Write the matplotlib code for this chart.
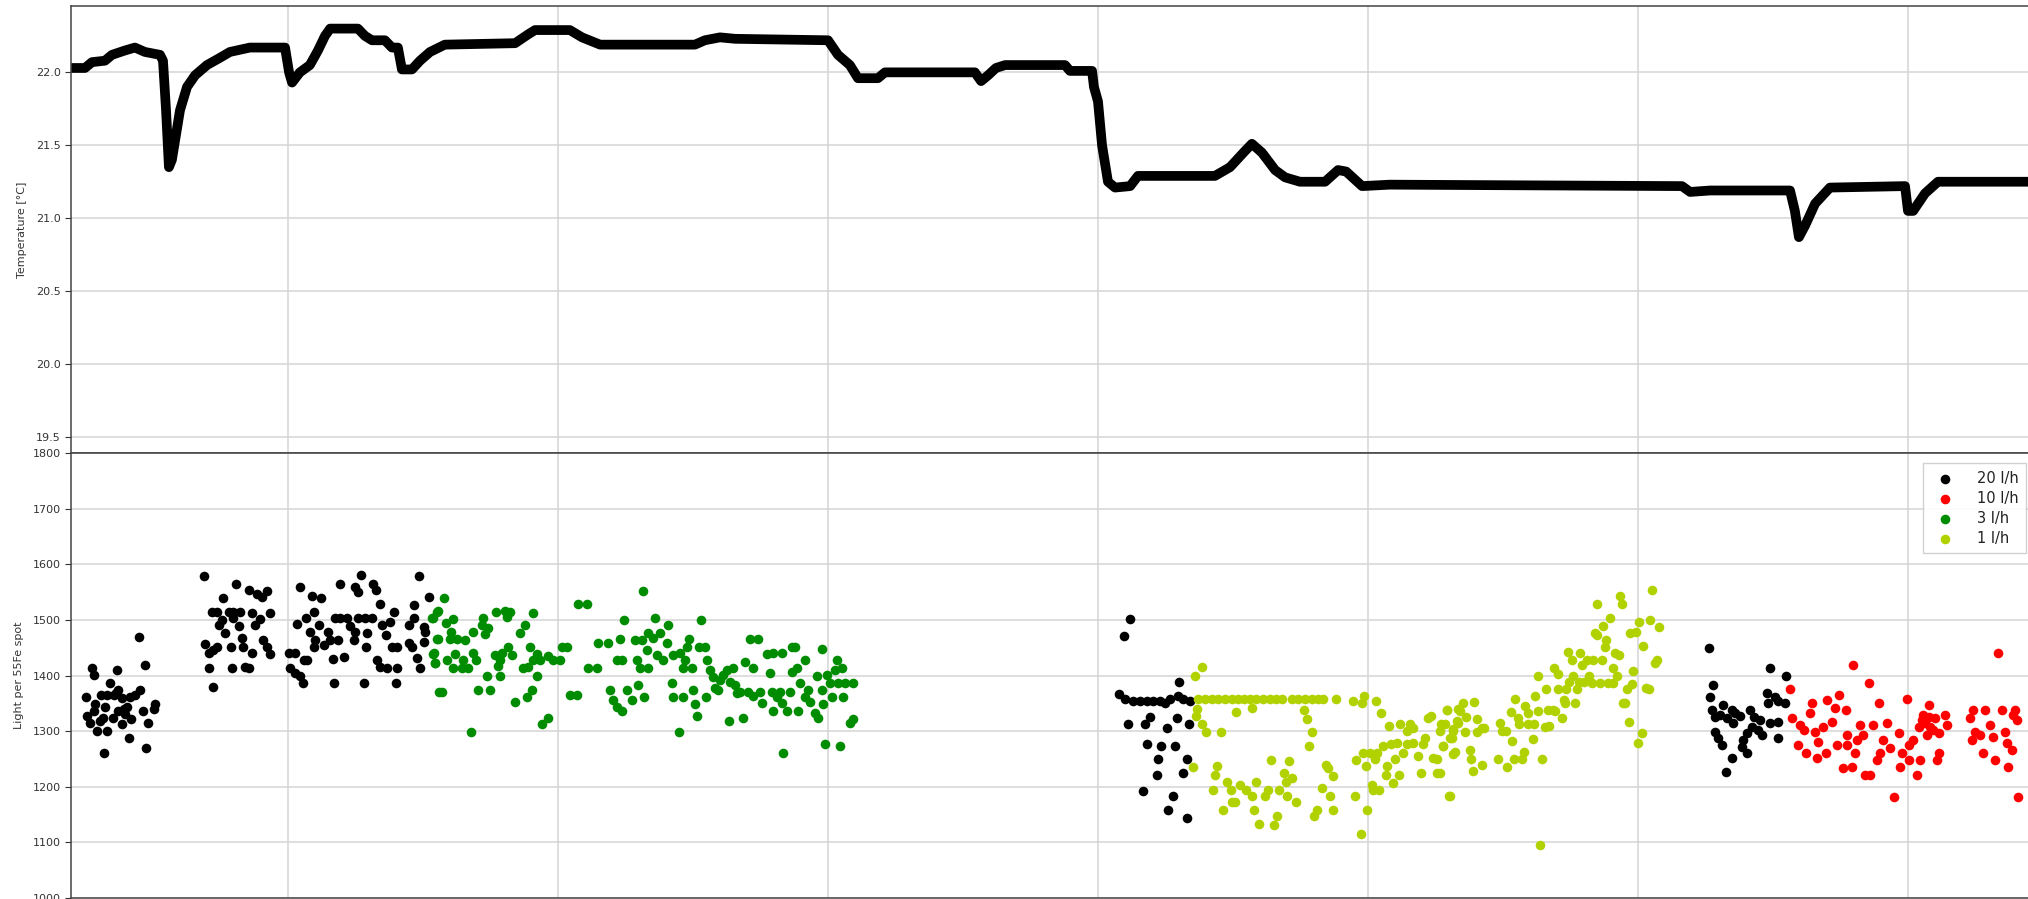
import matplotlib
matplotlib.use("Agg")
import matplotlib.pyplot as plt

# ---------------- data ----------------
temp_day = [0.200, 0.248, 0.274, 0.322, 0.348, 0.396, 0.433, 0.470, 0.526, 0.537,
            0.548, 0.559, 0.570, 0.600, 0.626, 0.656, 0.700, 0.748, 0.785, 0.859,
            0.989, 1.004, 1.015, 1.044, 1.081, 1.111, 1.137, 1.156, 1.259, 1.285,
            1.311, 1.359, 1.385, 1.407, 1.422, 1.459, 1.489, 1.526, 1.581, 1.841,
            1.889, 1.915, 2.044, 2.089, 2.156, 2.507, 2.544, 2.600, 2.656, 3.000,
            3.037, 3.081, 3.111, 3.185, 3.211, 3.544, 3.567, 3.593, 3.622, 3.656,
            3.878, 3.896, 3.978, 3.985, 4.000, 4.015, 4.037, 4.063, 4.119, 4.148,
            4.433, 4.489, 4.544, 4.570, 4.607, 4.656, 4.693, 4.748, 4.841, 4.889,
            4.919, 4.978, 5.081, 6.163, 6.193, 6.267, 6.563, 6.581, 6.596, 6.619,
            6.656, 6.711, 6.989, 7.000, 7.019, 7.063, 7.111, 7.470]
temp_c = [22.03, 22.03, 22.07, 22.08, 22.12, 22.15, 22.17, 22.14, 22.12, 22.08,
          21.75, 21.35, 21.40, 21.74, 21.90, 21.98, 22.05, 22.10, 22.14, 22.17,
          22.17, 22.00, 21.93, 22.00, 22.05, 22.15, 22.25, 22.30, 22.30, 22.25,
          22.22, 22.22, 22.17, 22.17, 22.02, 22.02, 22.08, 22.14, 22.19, 22.20,
          22.26, 22.29, 22.29, 22.24, 22.19, 22.19, 22.22, 22.24, 22.23, 22.22,
          22.12, 22.05, 21.96, 21.96, 22.00, 22.00, 21.94, 21.98, 22.03, 22.05,
          22.05, 22.01, 22.01, 21.90, 21.80, 21.50, 21.25, 21.21, 21.22, 21.29,
          21.29, 21.35, 21.46, 21.51, 21.45, 21.33, 21.28, 21.25, 21.25, 21.33,
          21.32, 21.22, 21.23, 21.22, 21.18, 21.19, 21.19, 21.05, 20.87, 20.95,
          21.10, 21.21, 21.22, 21.05, 21.05, 21.17, 21.25, 21.25]

flow20_day = [0.273, 0.280, 0.366, 0.450, 0.471, 0.252, 0.286, 0.307, 0.323, 0.341,
              0.354, 0.372, 0.384, 0.415, 0.434, 0.452, 0.255, 0.267, 0.302, 0.314,
              0.351, 0.372, 0.391, 0.403, 0.418, 0.384, 0.294, 0.331, 0.412, 0.319,
              0.475, 0.462, 0.483, 0.508, 0.502, 0.329, 0.363, 0.397, 0.280,
              0.690, 0.807, 0.761, 0.854, 0.885, 0.903, 0.922, 0.718, 0.736, 0.780,
              0.798, 0.823, 0.866, 0.934, 0.755, 0.798, 0.895, 0.746, 0.817, 0.879,
              0.767, 0.693, 0.736, 0.788, 0.829, 0.835, 0.909, 0.922, 0.706, 0.724,
              0.866, 0.932, 0.706, 0.792, 0.841, 0.854, 0.724,
              1.043, 1.088, 1.122, 1.097, 1.035, 1.067, 1.080, 1.113, 1.101, 1.095,
              1.132, 1.150, 1.156, 1.184, 1.193, 1.249, 1.261, 1.271, 1.314, 1.327,
              1.339, 1.175, 1.193, 1.218, 1.261, 1.286, 1.311, 1.228, 1.249, 1.243,
              1.292, 1.290, 1.348, 1.379, 1.391, 1.364, 1.385, 1.403, 1.329, 1.342,
              1.366, 1.403, 1.447, 1.465, 1.465, 1.484, 1.521, 1.502, 1.508, 1.502,
              1.450, 1.459, 1.477, 1.490, 1.208, 1.166, 1.070, 1.058, 1.002, 1.027,
              1.008, 1.027, 1.043, 1.055, 1.171, 1.282, 1.401,
              4.118, 4.096, 4.079, 4.100, 4.130, 4.155, 4.180, 4.205, 4.229, 4.248,
              4.266, 4.297, 4.316, 4.340, 4.301, 4.112, 4.174, 4.192, 4.254, 4.291,
              4.338, 4.180, 4.235, 4.285, 4.223, 4.330, 4.217, 4.313, 4.167, 4.279,
              4.260, 4.328,
              6.263, 6.279, 6.267, 6.273, 6.286, 6.316, 6.304, 6.329, 6.347, 6.360,
              6.353, 6.378, 6.415, 6.428, 6.452, 6.446, 6.421, 6.403, 6.390, 6.286,
              6.298, 6.310, 6.384, 6.403, 6.347, 6.326, 6.458, 6.489, 6.520, 6.517,
              6.477, 6.483, 6.508, 6.520, 6.489, 6.548, 6.545]
flow20_light = [1413, 1401, 1410, 1469, 1418, 1362, 1349, 1365, 1344, 1386,
                1365, 1374, 1359, 1362, 1365, 1374, 1327, 1315, 1318, 1324,
                1324, 1336, 1339, 1344, 1322, 1312, 1300, 1300, 1288, 1261,
                1269, 1337, 1315, 1349, 1339, 1365, 1368, 1331, 1336,
                1579, 1565, 1540, 1553, 1547, 1542, 1552, 1515, 1515, 1515,
                1515, 1515, 1513, 1513, 1500, 1503, 1501, 1491, 1489, 1491,
                1477, 1457, 1452, 1452, 1467, 1452, 1464, 1451, 1440, 1446,
                1440, 1439, 1413, 1413, 1415, 1413, 1379,
                1560, 1543, 1540, 1515, 1493, 1503, 1479, 1491, 1464, 1451,
                1455, 1479, 1464, 1463, 1565, 1559, 1550, 1580, 1565, 1554,
                1528, 1503, 1503, 1503, 1503, 1503, 1503, 1489, 1479, 1464,
                1477, 1452, 1491, 1497, 1515, 1473, 1452, 1451, 1428, 1416,
                1413, 1413, 1491, 1503, 1527, 1579, 1542, 1488, 1479, 1461,
                1458, 1451, 1431, 1413, 1434, 1429, 1428, 1427, 1440, 1440,
                1413, 1404, 1399, 1387, 1387, 1387, 1387,
                1501, 1471, 1367, 1357, 1355, 1354, 1355, 1355, 1354, 1350,
                1357, 1363, 1357, 1354, 1388, 1312, 1312, 1326, 1306, 1324,
                1312, 1276, 1274, 1274, 1249, 1249, 1222, 1224, 1193, 1184,
                1159, 1144,
                1450, 1383, 1362, 1338, 1326, 1347, 1329, 1323, 1338, 1332,
                1314, 1327, 1338, 1326, 1320, 1302, 1308, 1296, 1284, 1299,
                1287, 1275, 1272, 1260, 1251, 1227, 1293, 1314, 1317, 1287,
                1368, 1350, 1362, 1355, 1413, 1399, 1350]

flow10_day = [6.563, 6.570, 6.594, 6.600, 6.623, 6.637, 6.644, 6.613, 6.662, 6.656,
              6.668, 6.687, 6.697, 6.699, 6.718, 6.730, 6.746, 6.736, 6.761, 6.773,
              6.771, 6.773, 6.792, 6.795, 6.804, 6.810, 6.823, 6.835, 6.841, 6.860,
              6.857, 6.872, 6.884, 6.894, 6.897, 6.909, 6.921, 6.934, 6.949, 6.968,
              6.971, 6.977, 6.995, 7.002, 7.005, 7.020, 7.035, 7.039, 7.045, 7.055,
              7.063, 7.070, 7.079, 7.082, 7.094, 7.100, 7.107, 7.113, 7.116, 7.137,
              7.144, 7.230, 7.242, 7.236, 7.248, 7.267, 7.279, 7.286, 7.304, 7.316,
              7.323, 7.335, 7.347, 7.360, 7.366, 7.372, 7.384, 7.390, 7.403, 7.409,
              7.397, 7.051, 7.076]
flow10_light = [1375, 1323, 1275, 1311, 1260, 1332, 1350, 1302, 1251, 1299,
                1281, 1308, 1260, 1356, 1317, 1341, 1365, 1275, 1233, 1275,
                1338, 1293, 1236, 1418, 1260, 1284, 1311, 1293, 1221, 1221,
                1387, 1311, 1248, 1350, 1260, 1284, 1314, 1269, 1182, 1296,
                1236, 1260, 1357, 1248, 1275, 1284, 1221, 1308, 1248, 1329,
                1314, 1293, 1347, 1308, 1302, 1323, 1248, 1260, 1296, 1329,
                1311, 1323, 1338, 1284, 1299, 1293, 1260, 1338, 1311, 1290,
                1248, 1440, 1338, 1299, 1278, 1235, 1266, 1329, 1320, 1182,
                1338, 1320, 1326]

flow3_day = [1.533, 1.552, 1.552, 1.539, 1.545, 1.558,
             1.578, 1.536, 1.557, 1.585, 1.610, 1.603, 1.557, 1.600, 1.625, 1.656,
             1.684, 1.717, 1.724, 1.742, 1.730, 1.770, 1.804, 1.822, 1.810, 1.909,
             1.878, 1.859, 1.538, 1.545, 1.590, 1.619, 1.650, 1.612, 1.643, 1.668,
             1.687, 1.696, 1.767, 1.785, 1.816, 1.829, 1.791, 1.779, 1.736, 1.785,
             1.896, 1.921, 1.933, 1.909, 1.872, 1.890, 1.921, 1.964, 1.983, 2.008,
             2.014, 2.032, 1.569, 1.705, 1.748, 1.841, 1.884, 1.903, 1.940, 1.964,
             1.677, 2.045, 2.069, 2.075, 2.106, 2.112, 2.143, 2.149, 2.186, 2.230,
             2.245, 2.217, 2.236, 2.285, 2.310, 2.291, 2.304, 2.335, 2.314, 2.359,
             2.335, 2.353, 2.378, 2.409, 2.403, 2.329, 2.366, 2.390, 2.427, 2.452,
             2.487, 2.477, 2.470, 2.464, 2.495, 2.529, 2.524, 2.545, 2.193, 2.205,
             2.217, 2.236, 2.254, 2.273, 2.298, 2.319, 2.421, 2.427, 2.464, 2.501,
             2.507, 2.514, 2.548, 2.449, 2.553, 2.563, 2.575, 2.582, 2.600, 2.612,
             2.625, 2.650, 2.637, 2.656, 2.674, 2.693, 2.711, 2.742, 2.724, 2.773,
             2.798, 2.829, 2.866, 2.878, 2.786, 2.866, 2.884, 2.915, 2.896, 2.958,
             2.977, 2.995, 3.032, 3.051, 3.026, 2.705, 2.724, 2.748, 2.754, 2.791,
             2.810, 2.822, 2.829, 2.798, 2.847, 2.859, 2.890, 2.915, 2.927, 2.933,
             2.952, 2.964, 2.983, 2.977, 3.008, 3.014, 3.038, 3.063, 3.094, 3.057,
             3.094, 3.082, 2.635, 2.687, 2.835, 2.989, 3.045, 2.662, 2.594]
flow3_light = [1503, 1515, 1465, 1440, 1422, 1371,
               1540, 1503, 1516, 1494, 1501, 1479, 1465, 1465, 1465, 1464,
               1479, 1491, 1503, 1485, 1475, 1515, 1516, 1515, 1506, 1513,
               1491, 1477, 1439, 1422, 1427, 1439, 1427, 1413, 1413, 1413,
               1440, 1427, 1437, 1428, 1452, 1437, 1440, 1417, 1399, 1399,
               1452, 1439, 1428, 1427, 1413, 1415, 1399, 1435, 1428, 1427,
               1451, 1451, 1371, 1374, 1374, 1353, 1362, 1374, 1312, 1324,
               1299, 1365, 1365, 1528, 1528, 1413, 1413, 1458, 1458, 1465,
               1500, 1428, 1428, 1464, 1464, 1428, 1413, 1413, 1552, 1504,
               1477, 1467, 1477, 1491, 1458, 1446, 1437, 1428, 1437, 1440,
               1465, 1451, 1428, 1413, 1413, 1499, 1452, 1452, 1374, 1356,
               1344, 1336, 1374, 1356, 1383, 1362, 1386, 1362, 1362, 1374,
               1349, 1328, 1362, 1299, 1428, 1410, 1398, 1377, 1392, 1401,
               1410, 1413, 1389, 1383, 1371, 1425, 1465, 1465, 1413, 1439,
               1440, 1440, 1452, 1452, 1404, 1407, 1413, 1428, 1387, 1399,
               1447, 1401, 1428, 1413, 1410, 1371, 1364, 1371, 1350, 1371,
               1362, 1371, 1350, 1336, 1336, 1371, 1336, 1362, 1374, 1353,
               1333, 1324, 1349, 1374, 1386, 1362, 1386, 1386, 1386, 1362,
               1322, 1315, 1318, 1324, 1261, 1276, 1274, 1368, 1374]

flow1_day = [4.387, 4.359,
             4.371, 4.396, 4.421, 4.445, 4.470, 4.495, 4.519, 4.540, 4.563, 4.587,
             4.612, 4.637, 4.661, 4.680, 4.717, 4.742, 4.766, 4.791, 4.816, 4.832,
             4.881, 4.945, 4.976, 4.986, 5.029,
             4.367, 4.362, 4.384, 4.400, 4.454, 4.511, 4.572, 4.763, 4.775, 4.791,
             4.782, 4.353, 4.439, 4.433, 4.427, 4.479, 4.491, 4.526, 4.548, 4.569,
             4.585, 4.495, 4.507, 4.464, 4.577, 4.597, 4.618, 4.630, 4.651, 4.664,
             4.640, 4.671, 4.688, 4.696, 4.717, 4.708, 4.701, 4.735, 4.800, 4.812,
             4.828, 4.844, 4.853, 4.871, 4.859, 4.869, 4.951, 4.973, 4.955, 4.980,
             4.992, 4.997, 5.007, 5.013, 5.019, 5.034, 5.042, 5.048, 5.079, 5.118,
             5.155, 5.165, 5.143, 5.026, 5.056, 5.069, 5.066, 5.091, 5.100, 5.106,
             5.116, 5.087, 5.128, 5.143, 5.168, 5.186, 5.198, 5.202, 5.211, 5.223,
             5.235, 5.242, 5.254, 5.256, 5.266, 5.272, 5.279, 5.291, 5.301, 5.303,
             5.316, 5.316, 5.334, 5.334,
             5.294, 5.286, 5.279, 5.267, 5.302, 5.316, 5.310, 5.323, 5.331, 5.341,
             5.351, 5.363, 5.360, 5.376, 5.381, 5.388, 5.393, 5.405, 5.403, 5.421,
             5.431, 5.421, 5.483, 5.489, 5.495, 5.514, 5.511, 5.529, 5.532, 5.545,
             5.541, 5.557, 5.561, 5.569, 5.576, 5.582, 5.594, 5.594, 5.613, 5.610,
             5.619, 5.628, 5.631, 5.644, 5.637, 5.656, 5.660, 5.672, 5.668, 5.687,
             5.693, 5.689, 5.705, 5.702, 5.718, 5.726, 5.734, 5.730, 5.742, 5.746,
             5.758, 5.755, 5.767, 5.773, 5.785, 5.792, 5.783, 5.800, 5.810, 5.820,
             5.829, 5.835, 5.847, 5.841, 5.850, 5.860, 5.866, 5.872, 5.878, 5.882,
             5.897, 5.890, 5.906, 5.909, 5.915, 5.931, 5.924, 5.934, 5.940, 5.944,
             5.952, 5.958, 5.965, 5.971, 5.977, 5.983, 5.993, 6.005, 5.999, 6.014,
             6.020, 6.030, 6.039, 6.045, 6.052, 6.063, 6.070, 6.076]
flow1_light = [1416, 1400,
               1357, 1357, 1357, 1357, 1357, 1357, 1357, 1357, 1357, 1357,
               1357, 1357, 1357, 1357, 1357, 1357, 1357, 1357, 1357, 1357,
               1357, 1354, 1351, 1363, 1355,
               1340, 1327, 1312, 1298, 1298, 1334, 1342, 1338, 1322, 1298,
               1274, 1236, 1237, 1222, 1195, 1209, 1195, 1204, 1195, 1184,
               1209, 1173, 1172, 1158, 1158, 1133, 1184, 1195, 1131, 1147,
               1248, 1195, 1225, 1209, 1216, 1246, 1184, 1172, 1147, 1158,
               1198, 1240, 1234, 1220, 1184, 1158, 1184, 1115, 1248, 1261,
               1237, 1158, 1261, 1204, 1195, 1261, 1195, 1332, 1310, 1312,
               1312, 1306, 1300, 1250, 1273, 1238, 1222, 1207, 1249, 1279,
               1222, 1276, 1261, 1276, 1278, 1255, 1224, 1276, 1288, 1324,
               1327, 1252, 1249, 1224, 1300, 1312, 1274, 1338, 1184, 1288,
               1300, 1258, 1339, 1315,
               1338, 1312, 1274, 1224, 1184, 1303, 1288, 1262, 1318, 1336,
               1350, 1326, 1298, 1266, 1249, 1228, 1352, 1321, 1298, 1306,
               1306, 1240, 1249, 1315, 1300, 1236, 1300, 1334, 1282, 1357,
               1250, 1324, 1312, 1249, 1262, 1345, 1333, 1312, 1312, 1286,
               1363, 1400, 1336, 1249, 1095, 1308, 1375, 1310, 1338, 1338,
               1336, 1413, 1402, 1375, 1324, 1356, 1375, 1351, 1442, 1388,
               1400, 1427, 1350, 1375, 1440, 1419, 1388, 1388, 1427, 1400,
               1387, 1427, 1529, 1477, 1473, 1387, 1427, 1489, 1452, 1464,
               1503, 1387, 1413, 1387, 1440, 1436, 1400, 1543, 1529, 1350,
               1350, 1375, 1316, 1477, 1384, 1408, 1479, 1497, 1278, 1297,
               1453, 1378, 1376, 1499, 1553, 1422, 1427, 1488]

series_labels = ["20 l/h", "10 l/h", "3 l/h", "1 l/h"]
series_colors = ["#000000", "#ff0000", "#008c00", "#b2d200"]
grid_days = [1, 2, 3, 4, 5, 6, 7]
temp_ticks = [19.5, 20.0, 20.5, 21.0, 21.5, 22.0]
light_ticks = [1000, 1100, 1200, 1300, 1400, 1500, 1600, 1700, 1800]

# ---------------- figure ----------------
W, H = 2028, 899
fig = plt.figure(figsize=(W / 100, H / 100), dpi=100)
left = 71 / W
right_px = 2035
width = (right_px - 71) / W
ax_t = fig.add_axes([left, 1 - 453 / H, width, (453 - 6) / H])
ax_b = fig.add_axes([left, 1 - 898 / H, width, (898 - 453) / H], sharex=ax_t)

spine_col = "#444444"
grid_col = "#d4d4d4"
for ax in (ax_t, ax_b):
    ax.grid(True, color=grid_col, linewidth=1.1)
    ax.set_axisbelow(True)
    for s in ax.spines.values():
        s.set_color(spine_col)
        s.set_linewidth(1.1)
    ax.tick_params(axis="y", labelsize=8, colors="#333333", length=4)
    ax.tick_params(axis="x", labelbottom=False, length=0)
    ax.set_xticks(grid_days)

ax_t.plot(temp_day, temp_c, color="black", linewidth=7, solid_joinstyle="round",
          solid_capstyle="round")
ax_t.set_ylim(19.39, 22.455)
ax_t.set_yticks(temp_ticks)
ax_t.set_yticklabels([f"{v:.1f}" for v in temp_ticks])
ax_t.set_ylabel("Temperature [°C]", fontsize=8, color="#333333", labelpad=6)

series = [(flow20_day, flow20_light), (flow10_day, flow10_light),
          (flow3_day, flow3_light), (flow1_day, flow1_light)]
for (xd, yd), lab, col in zip(series, series_labels, series_colors):
    ax_b.scatter(xd, yd, s=48, color=col, label=lab, linewidths=0, zorder=3)
ax_b.set_ylim(1000, 1800)
ax_b.set_yticks(light_ticks)
ax_b.set_ylabel("Light per 55Fe spot", fontsize=8, color="#333333", labelpad=6)

ax_t.set_xlim(1 + (71 - 288) / 270, 1 + (right_px - 288) / 270)

leg = ax_b.legend(loc="upper left", bbox_to_anchor=(1916 / W, 1 - 456 / H),
                  bbox_transform=fig.transFigure, fontsize=10.5, markerscale=1.0,
                  handletextpad=1.2, borderpad=0.5, labelspacing=0.35,
                  framealpha=0.9, fancybox=False, edgecolor="#cccccc")
for t in leg.get_texts():
    t.set_color("#222222")

fig.savefig("out.png", dpi=100)
